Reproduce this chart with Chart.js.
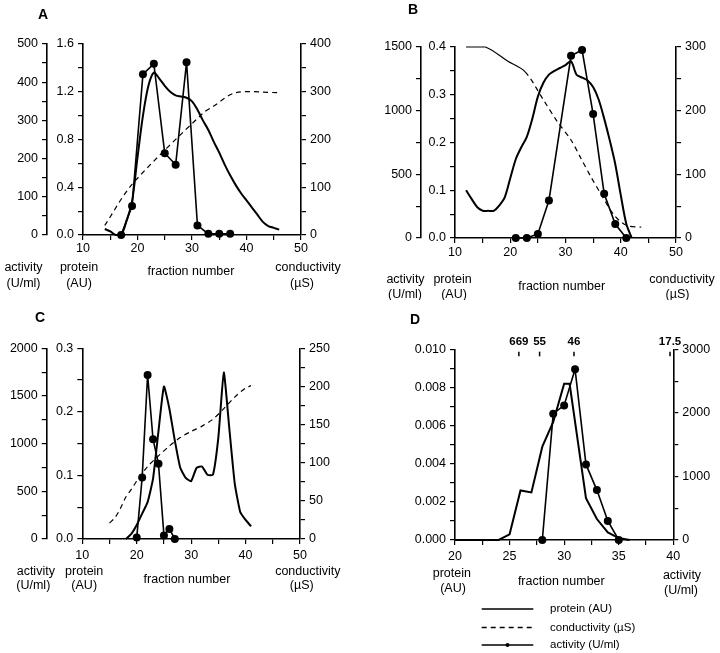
<!DOCTYPE html>
<html><head><meta charset="utf-8">
<script src="https://cdn.jsdelivr.net/npm/chart.js@4/dist/chart.umd.min.js"></script>
<style>
html,body{margin:0;padding:0;background:#fff;}
#wrap{position:relative;width:720px;height:653px;overflow:hidden;background:#fff;}
canvas{position:absolute;}
</style></head><body>
<div id="wrap">
<canvas id="cA" width="360" height="300" style="left:0;top:0;width:360px;height:300px"></canvas>
<canvas id="cB" width="360" height="300" style="left:360px;top:0;width:360px;height:300px"></canvas>
<canvas id="cC" width="360" height="300" style="left:0;top:300px;width:360px;height:300px"></canvas>
<canvas id="cD" width="360" height="353" style="left:360px;top:300px;width:360px;height:353px"></canvas>
</div>
<script>
// ---------- DATA ----------
// Panel A
const A_protX = [14,15,16,17,18,19,20,21,22,23,24,25,26,27,28,29,30,31,32,33,34,35,36,37,38,39,40,41,42,43,44,45,46];
const A_prot  = [0.05,0.03,0.0,0.0,0.12,0.28,0.65,1.0,1.25,1.36,1.31,1.25,1.2,1.17,1.16,1.15,1.12,1.05,0.96,0.88,0.78,0.69,0.59,0.5,0.42,0.35,0.29,0.23,0.17,0.11,0.075,0.06,0.045];
const A_actX  = [17,19,21,23,25,27,29,31,33,35,37];
const A_act   = [0,76,421,448,214,184,452,25,3,3,3];
const A_condX = [14,19,32,34,38,46];
const A_cond  = [20,106,255,270,298,298];

// Panel B
const B_protX = [12,13,14,15,16,17,18,19,20,21,22,23,24,25,26,27,28,29,30,31,32,33,34,35,36,37,38,39,40,41,42];
const B_prot  = [0.1,0.082,0.065,0.057,0.057,0.057,0.068,0.085,0.125,0.165,0.19,0.212,0.25,0.296,0.325,0.342,0.35,0.356,0.362,0.37,0.342,0.336,0.33,0.316,0.29,0.25,0.205,0.155,0.09,0.03,0];
const B_actX  = [21,23,25,27,31,33,35,37,39,41];
const B_act   = [0,0,32,294,1431,1476,973,347,110,0];
const B_condX = [12,15.5,19.5,22.7,26,28.5,31,32.8,34.6,36.7,38.8,41,43.7];
const B_cond  = [300,300,278,261,217,183,154,125,96,65,36,20,17];

// Panel C
const C_protX = [18,19,20,21,22,23,24,25,26,27,28,29,30,31,32,33,34,35,36,37,38,39,40,41];
const C_prot  = [0,0.008,0.022,0.04,0.058,0.095,0.17,0.24,0.205,0.155,0.112,0.096,0.091,0.112,0.114,0.101,0.101,0.16,0.262,0.175,0.088,0.043,0.03,0.02];
const C_actX  = [20,21,22,23,24,25,26,27];
const C_act   = [15,645,1720,1045,788,38,105,0];
const C_condX = [15,16,17,18,19,20,22,24,26,28,30,32,34,36,38,40,41];
const C_cond  = [21,28,40,55,65,76,95,109,122,133,141,148,157,171,186,198,201];

// Panel D
const D_protX = [20,24,25,26,27,28,29,30,30.5,32,33,34,35,36];
const D_prot  = [0,0,0.0003,0.0026,0.0025,0.0049,0.0062,0.0082,0.0082,0.0022,0.0011,0.0004,0.0001,0];
const D_actX  = [28,29,30,31,32,33,34,35];
const D_act   = [0,1990,2120,2690,1190,786,300,0];
const D_markerLabels = ['669','55','46','17.5'];
const D_markerX      = [25.85,27.75,30.9,39.7];

const legendLabels = ['protein (AU)','conductivity (\u00B5S)','activity (U/ml)'];

// ---------- HELPERS ----------
const FONT = '"Liberation Sans", Arial, Helvetica, sans-serif';
function stepTicks(min, max, step){
  const out=[]; const n=Math.round((max-min)/step);
  for(let i=0;i<=n;i++) out.push(+(min+i*step).toFixed(6));
  return out;
}
function isMult(v,m){ const r=v/m; return Math.abs(r-Math.round(r))<1e-6; }
function pts(xs,ys){ return xs.map((x,i)=>({x:x,y:ys[i]})); }

function yScale(o){
  return {
    type:'linear', position:o.pos, min:o.min, max:o.max, weight:o.weight||0,
    afterBuildTicks:s=>{ s.ticks=stepTicks(o.min,o.max,o.minor).map(v=>({value:v})); },
    afterFit:s=>{ s.width=o.width; },
    ticks:{ autoSkip:false, padding:o.pad!=null?o.pad:4, color:'#000', font:{family:FONT,size:12.5},
      callback:v=> isMult(v,o.major)? v.toFixed(o.dec):'' },
    grid:{ drawOnChartArea:false, drawTicks:true, tickLength:5, color:'#000', lineWidth:1.2 },
    border:{ display:true, color:'#000', width:1.6 }
  };
}
function xScale(o){
  return {
    type:'linear', position:'bottom', min:o.min, max:o.max,
    afterBuildTicks:s=>{ s.ticks=stepTicks(o.min,o.max,o.minor).map(v=>({value:v})); },
    afterFit:s=>{ s.height=o.height; },
    ticks:{ autoSkip:false, maxRotation:0, padding:o.pad, color:'#000', font:{family:FONT,size:12.5},
      callback:v=> isMult(v,o.major)? v.toFixed(0):'' },
    grid:{ drawOnChartArea:false, drawTicks:true, tickLength:5, color:'#000', lineWidth:1.2 },
    border:{ display:true, color:'#000', width:1.6 }
  };
}
function protDS(xs,ys,axis,tension){
  return {label:'protein (AU)', data:pts(xs,ys), yAxisID:axis, borderColor:'#000', borderWidth:2,
    pointRadius:0, tension:tension||0, fill:false, clip:false};
}
function condDS(xs,ys,axis,solidUntil){
  return {label:'conductivity (\u00B5S)', data:pts(xs,ys), yAxisID:axis, borderColor:'#000', borderWidth:1.2,
    borderDash:[5,4], pointRadius:0, tension:0.3, fill:false, clip:false,
    segment: solidUntil!=null ? { borderDash: c => c.p0.parsed.x < solidUntil ? [] : [5,4] } : undefined};
}
function actDS(xs,ys,axis){
  return {label:'activity (U/ml)', data:pts(xs,ys), yAxisID:axis, borderColor:'#000', borderWidth:1.6,
    pointRadius:4, pointBackgroundColor:'#000', pointBorderColor:'#000', pointBorderWidth:0, tension:0, fill:false, clip:false};
}

const textPlugin = {
  id:'panelText',
  afterDraw(chart, args, opts){
    const ctx=chart.ctx; ctx.save(); ctx.fillStyle='#000'; ctx.textBaseline='middle';
    (opts.items||[]).forEach(it=>{
      ctx.font=(it.bold?'bold ':'')+(it.size||12.5)+'px '+FONT;
      ctx.textAlign=it.align||'center';
      ctx.fillText(it.t, it.x-opts.ox, it.y-opts.oy);
    });
    // markers (panel D)
    if(opts.markers){
      const xs=chart.scales.x, top=chart.chartArea.top;
      ctx.strokeStyle='#000'; ctx.lineWidth=1.5;
      opts.markers.labels.forEach((lab,i)=>{
        const px=xs.getPixelForValue(opts.markers.x[i]);
        ctx.beginPath(); ctx.moveTo(px,top+2.2); ctx.lineTo(px,top+6.8); ctx.stroke();
        ctx.font='bold 11.5px '+FONT; ctx.textAlign='center';
        ctx.fillText(lab, px, top-7.8);
      });
    }
    // legend (panel D)
    if(opts.legend){
      const L=opts.legend;
      L.labels.forEach((lab,i)=>{
        const y=L.rows[i]-opts.oy;
        ctx.strokeStyle='#000'; ctx.lineWidth=1.3;
        ctx.setLineDash(i===1?[5,4]:[]);
        ctx.beginPath(); ctx.moveTo(L.x0-opts.ox,y); ctx.lineTo(L.x1-opts.ox,y); ctx.stroke();
        ctx.setLineDash([]);
        if(i===2){ ctx.beginPath(); ctx.arc((L.x0+L.x1)/2-opts.ox,y,2,0,Math.PI*2); ctx.fill(); }
        ctx.font='11.5px '+FONT; ctx.textAlign='left';
        ctx.fillText(lab, L.tx-opts.ox, y);
      });
    }
    ctx.restore();
  }
};

function makeChart(id, datasets, scales, padding, textOpts){
  return new Chart(document.getElementById(id), {
    type:'line',
    data:{datasets:datasets},
    options:{
      responsive:false, animation:false, events:[],
      layout:{padding:padding},
      scales:scales,
      plugins:{legend:{display:false}, tooltip:{enabled:false}, panelText:textOpts}
    },
    plugins:[textPlugin]
  });
}

// ---------- PANEL A ----------
makeChart('cA',
  [protDS(A_protX,A_prot,'yProt',0.3), condDS(A_condX,A_cond,'yCond'), actDS(A_actX,A_act,'yAct')],
  {
    x: xScale({min:10,max:50,minor:5,major:10,height:65,pad:1.5}),
    yAct: yScale({pos:'left',min:0,max:500,minor:50,major:100,dec:0,width:42,weight:2}),
    yProt: yScale({pos:'left',min:0,max:1.6,minor:0.2,major:0.4,dec:1,width:36,weight:1}),
    yCond: yScale({pos:'right',min:0,max:400,minor:50,major:100,dec:0,width:49})
  },
  {left:5,top:44,right:10,bottom:0},
  {ox:0,oy:0,items:[
    {t:'A',x:43,y:15,bold:true,size:14},
    {t:'activity',x:23.5,y:268},{t:'(U/ml)',x:23.5,y:283.5},
    {t:'protein',x:79,y:268},{t:'(AU)',x:79,y:283.5},
    {t:'fraction number',x:191,y:272},
    {t:'conductivity',x:308,y:268},{t:'(\u00B5S)',x:302,y:283.5}
  ]}
);

// ---------- PANEL B ----------
makeChart('cB',
  [protDS(B_protX,B_prot,'yProt',0.3), condDS(B_condX,B_cond,'yCond',22.7), actDS(B_actX,B_act,'yAct')],
  {
    x: xScale({min:10,max:50,minor:5,major:10,height:62,pad:2.5}),
    yAct: yScale({pos:'left',min:0,max:1500,minor:250,major:500,dec:0,width:51,weight:2}),
    yProt: yScale({pos:'left',min:0,max:0.4,minor:0.05,major:0.1,dec:1,width:34,weight:1}),
    yCond: yScale({pos:'right',min:0,max:300,minor:50,major:100,dec:0,width:40})
  },
  {left:10,top:47,right:4,bottom:0},
  {ox:360,oy:0,items:[
    {t:'B',x:413,y:10,bold:true,size:14},
    {t:'activity',x:405.5,y:280},{t:'(U/ml)',x:405,y:295},
    {t:'protein',x:452.5,y:280},{t:'(AU)',x:454,y:295},
    {t:'fraction number',x:561.7,y:286.7},
    {t:'conductivity',x:682,y:280},{t:'(\u00B5S)',x:677.5,y:295}
  ]}
);

// ---------- PANEL C ----------
makeChart('cC',
  [protDS(C_protX,C_prot,'yProt',0.15), condDS(C_condX,C_cond,'yCond'), actDS(C_actX,C_act,'yAct')],
  {
    x: xScale({min:10,max:50,minor:5,major:10,height:61,pad:4.5}),
    yAct: yScale({pos:'left',min:0,max:2000,minor:250,major:500,dec:0,width:36.7,weight:2}),
    yProt: yScale({pos:'left',min:0,max:0.3,minor:0.05,major:0.1,dec:1,width:35.6,weight:1}),
    yCond: yScale({pos:'right',min:0,max:250,minor:25,major:50,dec:0,width:50})
  },
  {left:10,top:48.3,right:10,bottom:0},
  {ox:0,oy:300,items:[
    {t:'C',x:40,y:318,bold:true,size:14},
    {t:'activity',x:35.8,y:571.7},{t:'(U/ml)',x:33.3,y:586},
    {t:'protein',x:84.2,y:571.7},{t:'(AU)',x:84.2,y:586},
    {t:'fraction number',x:187,y:579.3},
    {t:'conductivity',x:307.8,y:571.7},{t:'(\u00B5S)',x:301.7,y:586}
  ]}
);

// ---------- PANEL D ----------
makeChart('cD',
  [protDS(D_protX,D_prot,'yProt',0), actDS(D_actX,D_act,'yAct')],
  {
    x: xScale({min:20,max:40,minor:2.5,major:5,height:113,pad:4.5}),
    yProt: yScale({pos:'left',min:0,max:0.01,minor:0.001,major:0.002,dec:3,width:90,weight:1}),
    yAct: yScale({pos:'right',min:0,max:3000,minor:500,major:1000,dec:0,width:42.7})
  },
  {left:5,top:49.5,right:4,bottom:0},
  {ox:360,oy:300,items:[
    {t:'D',x:415,y:320,bold:true,size:14},
    {t:'protein',x:451.8,y:573.3},{t:'(AU)',x:453,y:588.3},
    {t:'fraction number',x:561.3,y:581.7},
    {t:'activity',x:682,y:575.3},{t:'(U/ml)',x:681,y:590.7}
  ],
  markers:{labels:D_markerLabels,x:D_markerX},
  legend:{labels:legendLabels,rows:[609,627.5,645],x0:481.7,x1:533.3,tx:550}
  }
);
</script>
</body></html>
